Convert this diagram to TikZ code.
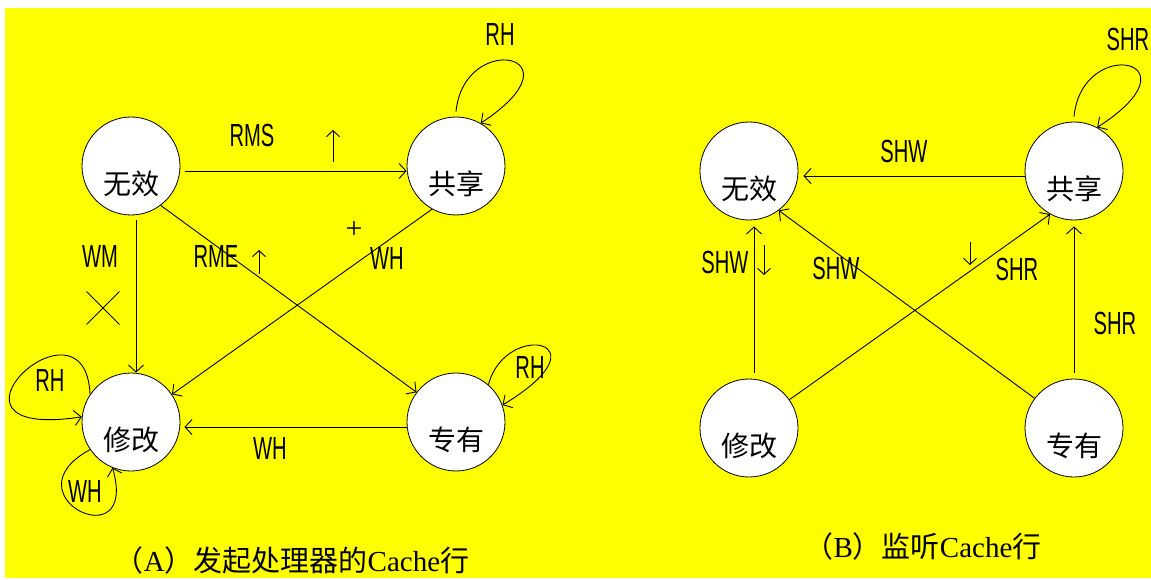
\documentclass[tikz,border=0pt]{standalone}
\usepackage{fontspec}
\usetikzlibrary{arrows.meta,shapes.misc}
\newfontfamily\cjk{Noto Sans CJK SC}
\newfontfamily\labfont[FakeStretch=0.63]{Liberation Sans}
\newfontfamily\capserif{Liberation Serif}
\newcommand\fsz[1]{\fontsize{#1pt}{#1pt}\selectfont}
\definecolor{bgyellow}{RGB}{255,255,0}
\begin{document}
\begin{tikzpicture}[x=1pt,y=-1pt,
  state/.style={circle,draw,fill=white,minimum size=98pt,inner sep=0pt,line width=0.8pt},
  stxt/.style={font=\cjk\fsz{28},yshift=-18pt},
  lab/.style={font=\labfont\fsz{32},inner sep=0pt},
  sym/.style={inner sep=0pt},
  arr/.style={-{Straight Barb[length=7pt,width=15pt]},line width=0.9pt},
  symarr/.style={-{Straight Barb[length=6pt,width=13pt]},line width=0.9pt}]
\useasboundingbox (0,0) rectangle (1151,580);
\fill[bgyellow] (5,8) rectangle (1151,578);

% ---------- panel A ----------
\node[state,label={[stxt]center:无效}] (I1) at (131,166) {};
\node[state,label={[stxt]center:共享}] (S1) at (456,166) {};
\node[state,label={[stxt]center:修改}] (M1) at (131,422) {};
\node[state,label={[stxt]center:专有}] (E1) at (456,422) {};

\draw[arr] ([shift={(5pt,-5pt)}]I1.east) -- ([yshift=-5pt]S1.west);
\draw[arr] ([shift={(5pt,-5pt)}]I1.south) -- ([xshift=5pt]M1.north);
\draw[arr] (I1.-53) -- (E1.143);
\draw[arr] (S1.-119) -- (M1.34);
\draw[arr] ([yshift=-5pt]E1.west) -- ([shift={(4pt,-5pt)}]M1.east);

\draw[arr] ([yshift=5pt]S1.north) .. controls +(8,-82) and +(105,-69) .. (S1.60);
\draw[arr] (E1.49) .. controls +(17,-65) and +(108,-65) .. (E1.20);
\draw[arr] (M1.146) .. controls +(-5,-110) and +(-165,25) .. (M1.174);
\draw[arr] (M1.214) .. controls +(-85,46) and +(27,93) .. (M1.248);

\node[lab] (lRMS) at (252,135) {RMS};
\node[lab] (lWM) at (100,256) {WM};
\node[lab] (lRME) at (216,256) {RME};
\node[lab] (lWH1) at (387,258) {WH};
\node[lab] (lWH2) at (270,448) {WH};
\node[lab] (lRH1) at (500,34) {RH};
\node[lab] (lRH2) at (530,367) {RH};
\node[lab] (lRH3) at (50,380) {RH};
\node[lab] (lWH3) at (85,491) {WH};

\coordinate (up1a) at (333,162); \coordinate (up1b) at (333,130);
\draw[symarr] (up1a) -- (up1b);
\coordinate (up2a) at (259,274); \coordinate (up2b) at (259,250);
\draw[symarr] (up2a) -- (up2b);
\node[sym,font=\capserif\fsz{30}] (plus) at (354,230) {+};
\node[cross out,draw,minimum size=32pt,inner sep=0pt,line width=0.9pt] (cross) at (103,308) {};

\node[inner sep=0pt] (capA) at (292,560) {\cjk\fsz{29}（\capserif A\cjk ）发起处理器的\capserif Cache\cjk 行};

% ---------- panel B ----------
\node[state,label={[stxt]center:无效}] (I2) at (749,171) {};
\node[state,label={[stxt]center:共享}] (S2) at (1074,171) {};
\node[state,label={[stxt]center:修改}] (M2) at (749,428) {};
\node[state,label={[stxt]center:专有}] (E2) at (1074,428) {};

\draw[arr] ([yshift=-5pt]S2.west) -- ([shift={(5pt,-5pt)}]I2.east);
\draw[arr] ([shift={(5pt,6pt)}]M2.north) -- ([shift={(5pt,-6pt)}]I2.south);
\draw[arr] (E2.143) -- (I2.-53);
\draw[arr] (M2.35) -- (S2.-119);
\draw[arr] ([yshift=6pt]E2.north) -- ([yshift=-6pt]S2.south);
\draw[arr] ([yshift=5pt]S2.north) .. controls +(8,-82) and +(106,-68) .. (S2.62);

\node[lab] (lSHW1) at (904,151) {SHW};
\node[lab] (lSHW2) at (725,262) {SHW};
\node[lab] (lSHW3) at (836,268) {SHW};
\node[lab] (lSHR1) at (1017,269) {SHR};
\node[lab] (lSHR2) at (1115,323) {SHR};
\node[lab] (lSHR3) at (1128,39) {SHR};

\coordinate (dn1a) at (764,245); \coordinate (dn1b) at (764,275);
\draw[symarr] (dn1a) -- (dn1b);
\coordinate (dn2a) at (970,242); \coordinate (dn2b) at (970,265);
\draw[symarr] (dn2a) -- (dn2b);

\node[inner sep=0pt] (capB) at (923,546) {\cjk\fsz{29}（\capserif B\cjk ）监听\capserif Cache\cjk 行};
\end{tikzpicture}
\end{document}
